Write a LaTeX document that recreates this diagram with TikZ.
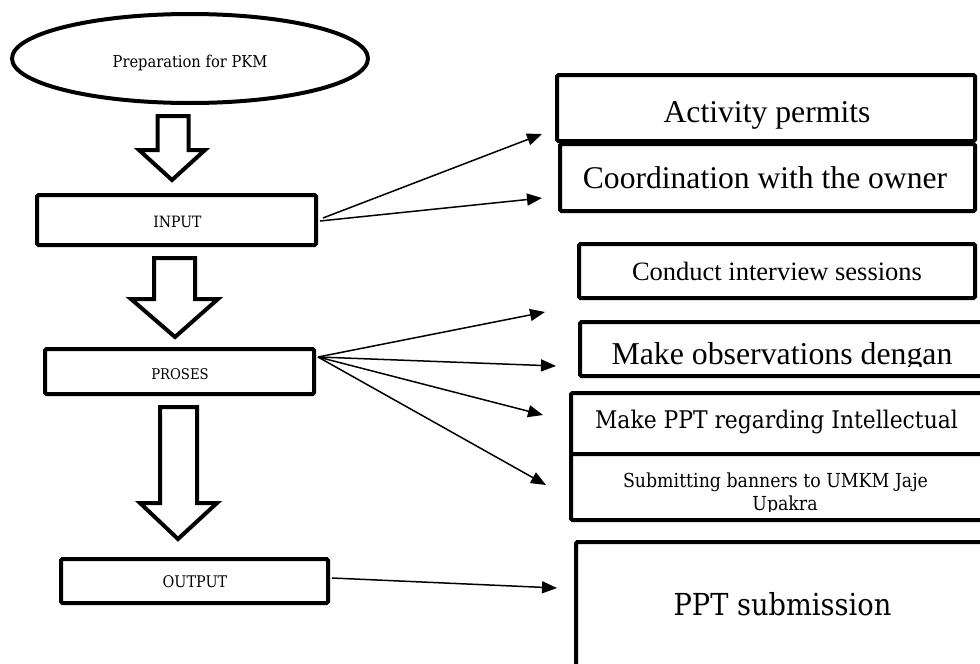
\documentclass[tikz,border=0pt]{standalone}
\usepackage{fontspec}
\newfontfamily\timesf{Liberation Serif}
\newfontfamily\cambf{DejaVu Serif Condensed}
\usetikzlibrary{arrows.meta,fit}
\tikzset{
  box/.style={draw, line width=4pt, rounded corners=1.5pt, inner sep=0pt, fill=white},
  lbl/.style={inner sep=0pt, anchor=base},
  hollow/.style={draw, line width=4pt, fill=white, line join=miter},
  link/.style={line width=1.5pt, -{Triangle[length=15pt,width=12pt]}},
}
\begin{document}
\begin{tikzpicture}[x=1pt,y=-1pt]
\clip (0,0) rectangle (980,664);
\fill[white] (0,0) rectangle (980,664);

% start ellipse
\draw[line width=4pt] (190,58.5) ellipse [x radius=178pt, y radius=44.5pt];
\node[lbl, font=\cambf\fontsize{16.3}{19}\selectfont] (prep) at (190,67) {Preparation for PKM};

% left boxes
\node[box, fit={(37,195) (316,245)}] (inp) {};
\node[lbl, font=\cambf\fontsize{15.6}{18}\selectfont] (inpt) at (177.5,227) {INPUT};
\node[box, fit={(45,349) (314,394)}] (pro) {};
\node[lbl, font=\cambf\fontsize{14.7}{17}\selectfont] (prot) at (180,379) {PROSES};
\node[box, fit={(61,559) (328,603)}] (out) {};
\node[lbl, font=\cambf\fontsize{16}{18}\selectfont] (outt) at (195,587) {OUTPUT};

% hollow down arrows
\draw[hollow] (157.5,116) -- (188.5,116) -- (188.5,150) -- (205,150) -- (172,180) -- (139,150) -- (157.5,150) -- cycle;
\draw[hollow] (154,258) -- (195,258) -- (195,299) -- (218,299) -- (175,337) -- (131,299) -- (154,299) -- cycle;
\draw[hollow] (160,407) -- (197,407) -- (197,503) -- (217,503) -- (178,539) -- (140,503) -- (160,503) -- cycle;

% right boxes
\node[box, fit={(557,75) (975,141)}] (act) {};
\node[lbl, font=\timesf\fontsize{31.7}{36}\selectfont] (actt) at (767,122) {Activity permits};
\node[box, fit={(560,144) (975,211)}] (coo) {};
\node[lbl, font=\timesf\fontsize{31.6}{36}\selectfont] (coot) at (765,188) {Coordination with the owner};
\node[box, fit={(579,244) (975,298)}] (con) {};
\node[lbl, font=\timesf\fontsize{26.5}{30}\selectfont] (cont) at (777,280) {Conduct interview sessions};
\node[box, fit={(580,322) (983,376)}] (obs) {};
\begin{scope}
\clip (560,300) rectangle (990,366);
\node[lbl, font=\timesf\fontsize{31.8}{36}\selectfont] (obst) at (782,364) {Make observations dengan};
\end{scope}
\node[box, fit={(571,393) (985,454)}] (ppt) {};
\node[lbl, font=\cambf\fontsize{24.3}{29}\selectfont] (pptt) at (776.5,428) {Make PPT regarding Intellectual};
\node[box, fit={(571,454) (985,520)}] (ban) {};
\begin{scope}
\clip (560,455) rectangle (990,511);
\node[lbl, font=\cambf\fontsize{19.3}{23}\selectfont] (bant) at (775.5,487) {Submitting banners to UMKM Jaje};
\node[lbl, font=\cambf\fontsize{19.3}{23}\selectfont] (bant2) at (785,510) {Upakra};
\end{scope}
\node[box, fit={(576,542) (990,690)}] (sub) {};
\node[lbl, font=\cambf\fontsize{30.3}{36}\selectfont] (subt) at (782.5,615) {PPT submission};

% tips
\coordinate (t1) at (542,134);
\coordinate (t2) at (542,198);
\coordinate (t3) at (545,312);
\coordinate (t4) at (556,366);
\coordinate (t5) at (543,415);
\coordinate (t6) at (546,485);
\coordinate (t7) at (557,588);

% connectors
\draw[link] ([xshift=5pt,yshift=2pt]inp.east) -- (t1);
\draw[link] ([xshift=2pt,yshift=-1pt]inp.east) -- (t2);
\draw[link] ([xshift=2pt,yshift=14.5pt]pro.east) -- (t3);
\draw[link] ([xshift=2pt,yshift=14.5pt]pro.east) -- (t4);
\draw[link] ([xshift=2pt,yshift=14.5pt]pro.east) -- (t5);
\draw[link] ([xshift=2pt,yshift=14.5pt]pro.east) -- (t6);
\draw[link] ([xshift=2pt,yshift=3pt]out.east) -- (t7);
\end{tikzpicture}
\end{document}
